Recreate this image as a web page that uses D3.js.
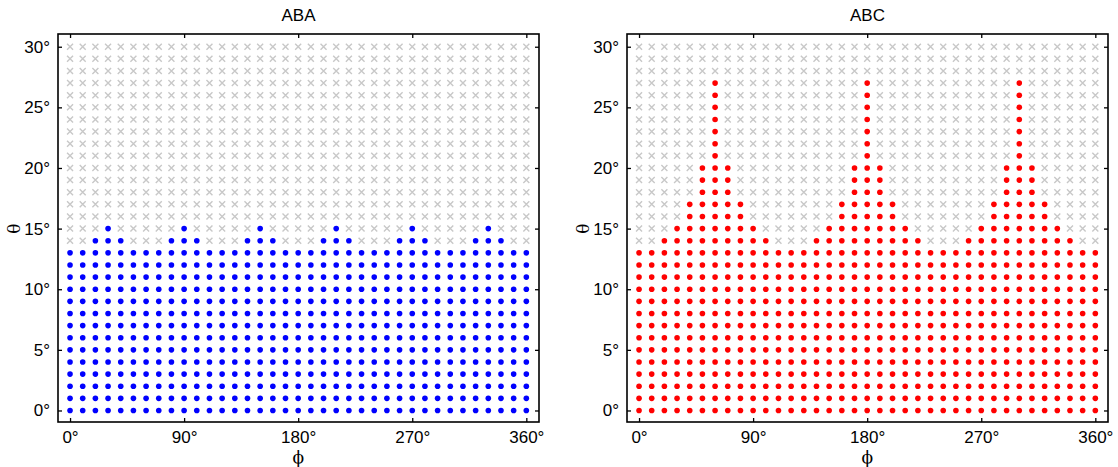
<!DOCTYPE html>
<html>
<head>
<meta charset="utf-8">
<script src="https://cdn.jsdelivr.net/npm/d3@7"></script>
<style>
  body { margin: 0; background: #fff; }
  svg { display: block; font-family: Arial, "Liberation Sans", Helvetica, sans-serif; }
</style>
</head>
<body>
<svg id="chart" width="1118" height="467"></svg>
<script>
// grid of sampled angles
const phis = [0, 10, 20, 30, 40, 50, 60, 70, 80, 90, 100, 110, 120, 130, 140, 150, 160, 170, 180,
  190, 200, 210, 220, 230, 240, 250, 260, 270, 280, 290, 300, 310, 320, 330, 340, 350, 360];
const thetas = [0, 1, 2, 3, 4, 5, 6, 7, 8, 9, 10, 11, 12, 13, 14, 15, 16, 17, 18, 19, 20,
  21, 22, 23, 24, 25, 26, 27, 28, 29, 30];

// highest stable theta for each phi
const abaMax = [13, 13, 14, 15, 14, 13, 13, 13, 14, 15, 14, 13, 13, 13, 14, 15, 14, 13, 13,
  13, 14, 15, 14, 13, 13, 13, 14, 15, 14, 13, 13, 13, 14, 15, 14, 13, 13];
const abcMax = [13, 13, 14, 15, 17, 20, 27, 20, 17, 15, 14, 13, 13, 13, 14, 15, 17, 20, 27,
  20, 17, 15, 14, 13, 13, 13, 14, 15, 17, 20, 27, 20, 17, 15, 14, 13, 13];

const xTicks = [0, 90, 180, 270, 360];
const yTicks = [0, 5, 10, 15, 20, 25, 30];

const panels = [
  { title: 'ABA', max: abaMax, color: '#0000ff', left: 58 },
  { title: 'ABC', max: abcMax, color: '#ff0000', left: 627 }
];

const svg = d3.select('#chart');
const w = 481, h = 388, plotTop = 34;
const fontSize = 17;
const sansFont = 'Arial, "Liberation Sans", Helvetica, sans-serif';

panels.forEach(p => {
  const g = svg.append('g').attr('transform', `translate(${p.left},${plotTop})`);

  const x = d3.scaleLinear().domain([-9.5, 370]).range([0, w]);
  const y = d3.scaleLinear().domain([-0.95, 31.05]).range([h, 0]);

  // build the grid points
  const pts = [];
  phis.forEach((phi, i) => {
    thetas.forEach(th => pts.push({ phi, th, ok: th <= p.max[i] }));
  });

  // unstable points: gray crosses
  const cs = 3;
  g.append('g').selectAll('path')
    .data(pts.filter(d => !d.ok))
    .enter().append('path')
    .attr('d', d => {
      const cx = x(d.phi), cy = y(d.th);
      return `M${cx - cs},${cy - cs}L${cx + cs},${cy + cs}M${cx - cs},${cy + cs}L${cx + cs},${cy - cs}`;
    })
    .attr('stroke', '#c8c8c8')
    .attr('stroke-width', 1.4)
    .attr('fill', 'none');

  // stable points: dots
  g.append('g').selectAll('circle')
    .data(pts.filter(d => d.ok))
    .enter().append('circle')
    .attr('cx', d => x(d.phi))
    .attr('cy', d => y(d.th))
    .attr('r', 2.8)
    .attr('fill', p.color);

  // axes with inward ticks on all sides
  const tick = 4;
  const fmt = d => d + '°';
  g.append('g').attr('transform', `translate(0,${h})`)
    .call(d3.axisBottom(x).tickValues(xTicks).tickSizeInner(-tick).tickSizeOuter(0).tickPadding(9).tickFormat(fmt));
  g.append('g')
    .call(d3.axisLeft(y).tickValues(yTicks).tickSizeInner(-tick).tickSizeOuter(0).tickPadding(8).tickFormat(fmt));
  g.append('g')
    .call(d3.axisTop(x).tickValues(xTicks).tickSizeInner(-tick).tickSizeOuter(0).tickFormat(''));
  g.append('g').attr('transform', `translate(${w},0)`)
    .call(d3.axisRight(y).tickValues(yTicks).tickSizeInner(-tick).tickSizeOuter(0).tickFormat(''));

  g.selectAll('.domain').remove();
  g.selectAll('.tick line').attr('stroke', '#000').attr('stroke-width', 1.3);
  g.selectAll('.tick text')
    .attr('fill', '#000')
    .style('font-family', sansFont)
    .style('font-size', fontSize + 'px');

  g.append('rect')
    .attr('width', w).attr('height', h)
    .attr('fill', 'none').attr('stroke', '#000').attr('stroke-width', 1.6);

  // title and axis labels
  g.append('text')
    .attr('x', w / 2).attr('y', -13)
    .attr('text-anchor', 'middle')
    .style('font-family', sansFont)
    .style('font-size', fontSize + 'px')
    .text(p.title);

  g.append('text')
    .attr('x', x(180)).attr('y', h + 41)
    .attr('text-anchor', 'middle')
    .style('font-family', '"DejaVu Serif", serif')
    .style('font-size', '17px')
    .text('ϕ');

  g.append('text')
    .attr('transform', `translate(-38,${y(15)}) rotate(-90)`)
    .attr('text-anchor', 'middle')
    .style('font-family', '"DejaVu Serif", serif')
    .style('font-size', '17px')
    .text('θ');
});
</script>
</body>
</html>
